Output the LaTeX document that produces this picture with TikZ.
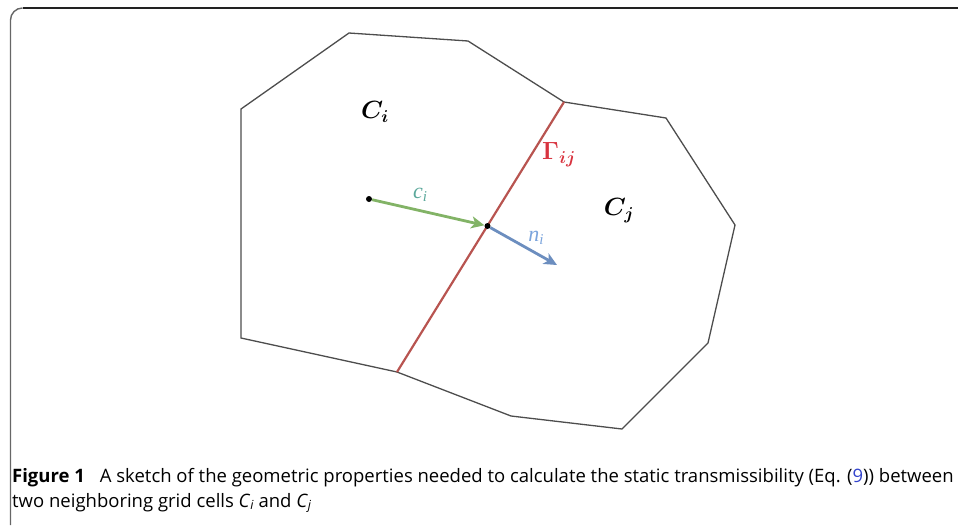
\documentclass[tikz,border=0pt]{standalone}
\usepackage{fontspec}
\usepackage{bm}
\usetikzlibrary{arrows.meta}
\newfontfamily\capfont{Open Sans}
\newfontfamily\lblfont{Liberation Serif}
\definecolor{edgegray}{HTML}{4D4D4D}
\definecolor{gammaline}{HTML}{B85450}
\definecolor{gammatext}{HTML}{D8333F}
\definecolor{greenarrow}{HTML}{82B366}
\definecolor{citext}{HTML}{5BA89B}
\definecolor{bluearrow}{HTML}{6C8EBF}
\definecolor{nitext}{HTML}{7BA4DC}
\definecolor{framegray}{HTML}{666666}
\definecolor{frametop}{HTML}{222222}
\definecolor{refblue}{HTML}{3344CC}
\newcommand{\vlab}[2]{{\lblfont\itshape #1\raisebox{-0.28ex}{\fontsize{15}{15}\selectfont #2}}}
\begin{document}
\begin{tikzpicture}[x=1pt,y=-1pt,
  celledge/.style={draw=edgegray,line width=1.3pt,line join=miter},
  face/.style={draw=gammaline,line width=2.2pt},
  vecarrow/.style={line width=2.8pt,-{Stealth[length=13pt,width=12pt,inset=3.5pt]}},
  dotnode/.style={circle,fill=black,inner sep=0pt,minimum size=6pt},
  celllabel/.style={font=\fontsize{23}{25}\selectfont,inner sep=0pt},
  veclabel/.style={font=\fontsize{22}{24}\selectfont,inner sep=0pt},
  captext/.style={font=\capfont\fontsize{18.5}{22}\selectfont,inner sep=0pt,anchor=base west}]
\useasboundingbox (0,0) rectangle (958,525);
% frame
\draw[framegray,line width=1.4pt] (10.5,525) -- (10.5,20) arc[start angle=180,end angle=270,radius=12];
\draw[frametop,line width=1.4pt] (22.5,8) -- (958,8);
% vertices
\coordinate (a) at (241,109);
\coordinate (b) at (349,33);
\coordinate (c) at (468,41);
\coordinate (top) at (564,102);
\coordinate (bot) at (397,372);
\coordinate (d) at (241,338);
\coordinate (e) at (666,118);
\coordinate (f) at (735,225);
\coordinate (g) at (708,343);
\coordinate (h) at (622,429);
\coordinate (k) at (511,416);
% cell C_i
\draw[celledge] (top) -- (c) -- (b) -- (a) -- (d) -- (bot);
% cell C_j
\draw[celledge] (top) -- (e) -- (f) -- (g) -- (h) -- (k) -- (bot);
% face
\draw[face] (top) -- (bot);
% points
\node[dotnode] (ctr) at (369,199) {};
\node[dotnode] (mid) at (487.5,226) {};
\coordinate (nend) at (557,265);
\draw[vecarrow,greenarrow] (ctr) -- (mid);
\draw[vecarrow,bluearrow] (mid) -- (nend);
% labels
\node[celllabel] (Ci) at (375,112) {$\bm{C_i}$};
\node[celllabel] (Cj) at (619,211) {$\bm{C_j}$};
\node[celllabel,text=gammatext] (G) at (559,155) {$\bm{\Gamma_{ij}}$};
\node[veclabel,text=citext] (cl) at (420,195) {\vlab{c}{i}};
\node[veclabel,text=nitext] (nl) at (536,238) {\vlab{n}{i}};
% caption
\node[captext] (cap1) at (12,482) {\textbf{Figure 1}\hspace{0.55em} A sketch of the geometric properties needed to calculate the static transmissibility (Eq. ({\color{refblue}9})) between};
\node[captext] (cap2) at (12,507) {two neighboring grid cells \textit{C}\raisebox{-0.3ex}{\fontsize{12.5}{12}\selectfont\textit{i}} and \textit{C}\raisebox{-0.3ex}{\fontsize{12.5}{12}\selectfont\textit{j}}};
\end{tikzpicture}
\end{document}
